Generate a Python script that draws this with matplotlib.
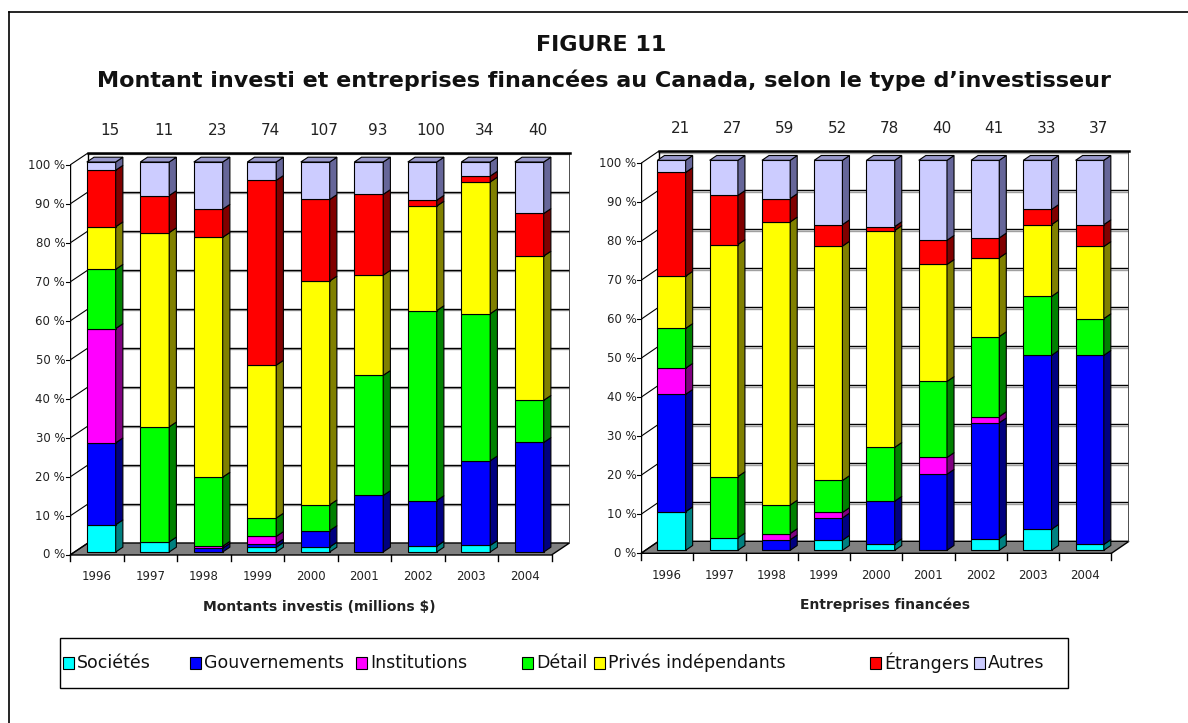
import numpy as np
import matplotlib
matplotlib.use("Agg")
import matplotlib.pyplot as plt
from matplotlib.patches import Polygon, Rectangle
from matplotlib.lines import Line2D
from matplotlib import font_manager

# données
annees = ['1996', '1997', '1998', '1999', '2000', '2001', '2002', '2003', '2004']
types = ['Sociétés', 'Gouvernements', 'Institutions', 'Détail',
         'Privés indépendants', 'Étrangers', 'Autres']
couleurs = ['#00FFFF', '#0000FF', '#FF00FF', '#00FF00', '#FFFF00', '#FF0000', '#CCCCFF']
ombres = ['#008080', '#000080', '#800080', '#008000', '#808000', '#800000', '#666699']
dessus_autres = '#9999CC'

# montants investis (% par année)
mi_societes = [7.0, 2.6, 0.0, 1.2, 1.3, 0.0, 1.5, 1.7, 0.0]
mi_gouv = [21.0, 0.0, 1.0, 0.9, 4.2, 14.5, 11.7, 21.7, 28.1]
mi_instit = [29.3, 0.0, 0.5, 1.9, 0.0, 0.0, 0.0, 0.0, 0.0]
mi_detail = [15.2, 29.5, 17.7, 4.7, 6.6, 30.8, 48.7, 37.7, 10.8]
mi_prives = [10.9, 49.8, 61.5, 39.2, 57.4, 25.7, 26.8, 33.8, 37.0]
mi_etrangers = [14.5, 9.5, 7.2, 47.4, 20.9, 20.7, 1.5, 1.5, 10.9]
mi_autres = [2.1, 8.6, 12.1, 4.7, 9.6, 8.3, 9.8, 3.6, 13.2]
mi_totaux = [15, 11, 23, 74, 107, 93, 100, 34, 40]  # millions $

# entreprises financées (% par année)
ef_societes = [9.9, 3.2, 0.0, 2.6, 1.7, 0.0, 3.0, 5.4, 1.5]
ef_gouv = [30.1, 0.0, 2.7, 5.7, 10.9, 19.5, 29.7, 44.6, 48.5]
ef_instit = [6.7, 0.0, 1.6, 1.4, 0.0, 4.3, 1.6, 0.0, 0.0]
ef_detail = [10.2, 15.7, 7.3, 8.2, 13.8, 19.5, 20.5, 15.1, 9.4]
ef_prives = [13.4, 59.5, 72.6, 60.1, 55.6, 30.0, 20.2, 18.4, 18.5]
ef_etrangers = [26.6, 12.6, 6.0, 5.5, 1.0, 6.2, 5.1, 3.9, 5.6]
ef_autres = [3.1, 9.0, 9.8, 16.5, 17.0, 20.5, 19.9, 12.6, 16.5]
ef_totaux = [21, 27, 59, 52, 78, 40, 41, 33, 37]

noms = {f.name for f in font_manager.fontManager.ttflist}
etroit = 'Liberation Sans Narrow' if 'Liberation Sans Narrow' in noms else 'DejaVu Sans'

W, H = 1188, 723
fig = plt.figure(figsize=(W / 100, H / 100), dpi=100)


def boite(x0, y0, x1, y1):
    # rectangle en pixels (origine en haut à gauche) -> coordonnées figure
    return [x0 / W, 1 - y1 / H, (x1 - x0) / W, (y1 - y0) / H]


DX, DY = 0.336, 3.08     # profondeur des murs
F = 0.25                 # position des barres dans la profondeur
BX, BY = 0.4 * DX, 0.4 * DY
LB = 0.54                # largeur des barres


def panneau(ax, series, totaux, titre):
    n = len(annees)
    ax.set_xlim(0, n + DX)
    ax.set_ylim(0, 100 + DY)
    ax.axis('off')
    # mur du fond
    for v in range(10, 101, 10):
        ax.plot([DX, n + DX], [v + DY - 0.35] * 2, color='#a0a0a0', lw=1)
        ax.plot([DX, n + DX], [v + DY, v + DY], color='black', lw=1)
    ax.plot([DX, DX], [DY, 100 + DY], color='black', lw=1)
    ax.plot([n + DX, n + DX], [DY, 100 + DY], color='#404040', lw=1.3)
    ax.plot([DX, n + DX], [100 + DY] * 2, color='black', lw=1.8, clip_on=False)
    # mur de gauche + axe
    for v in range(0, 101, 10):
        ax.plot([0, DX], [v, v + DY], color='black', lw=0.8)
        ax.plot([-0.07, 0], [v, v], color='black', lw=0.8, clip_on=False)
        ax.text(-0.09, v, f'{v} %', ha='right', va='center', fontsize=8.5,
                family=etroit, color='#222222')
    ax.plot([0, 0], [0, 100], color='black', lw=1)
    # plancher
    ax.add_patch(Polygon([(0, 0), (n, 0), (n + DX, DY), (DX, DY)], closed=True,
                         fc='#808080', ec='black', lw=1, clip_on=False))
    for i in range(n + 1):
        ax.plot([i, i], [0, -1.6], color='black', lw=1, clip_on=False)
    # barres empilées
    x = np.arange(n) + 0.5 + F * DX
    bas = np.full(n, F * DY)
    for vals, c, s in zip(series, couleurs, ombres):
        vals = np.array(vals)
        m = vals > 0
        ax.bar(x[m], vals[m], LB, bottom=bas[m], color=c, edgecolor='black',
               lw=0.8, zorder=3)
        for xi, b, h in zip(x[m], bas[m], vals[m]):
            xr = xi + LB / 2
            ax.add_patch(Polygon([(xr, b), (xr + BX, b + BY), (xr + BX, b + h + BY), (xr, b + h)],
                                 closed=True, fc=s, ec='black', lw=0.8, zorder=3))
        bas = bas + vals
    for xi, b in zip(x, bas):
        xl = xi - LB / 2
        ax.add_patch(Polygon([(xl, b), (xl + LB, b), (xl + LB + BX, b + BY), (xl + BX, b + BY)],
                             closed=True, fc=dessus_autres, ec='black', lw=0.8, zorder=3,
                             clip_on=False))
    # étiquettes
    for i, (a, t) in enumerate(zip(annees, totaux)):
        ax.text(i + 0.5, -5.6, a, ha='center', va='center', fontsize=8.5, color='#222222')
        ax.text(i + 0.75, 108.8, str(t), ha='center', va='center', fontsize=11,
                family=etroit, color='#222222')
    ax.text(n / 2 + DX / 2, -13.3, titre, ha='center', va='center', fontsize=10,
            fontweight='bold', color='#222222')


ax1 = fig.add_axes(boite(70, 153, 569.5, 555))
panneau(ax1, [mi_societes, mi_gouv, mi_instit, mi_detail, mi_prives, mi_etrangers, mi_autres],
        mi_totaux, 'Montants investis (millions $)')
ax2 = fig.add_axes(boite(641, 151.3, 1129, 553.3))
panneau(ax2, [ef_societes, ef_gouv, ef_instit, ef_detail, ef_prives, ef_etrangers, ef_autres],
        ef_totaux, 'Entreprises financées')

# titres
fig.text(601 / W, 1 - 45 / H, 'FIGURE 11', ha='center', va='center', fontsize=16,
         fontweight='bold', color='#111111')
fig.text(604 / W, 1 - 80 / H,
         'Montant investi et entreprises financées au Canada, selon le type d\u2019investisseur',
         ha='center', va='center', fontsize=16, fontweight='bold', color='#111111')

# cadre extérieur
fig.add_artist(Line2D([9 / W, 1], [1 - 12 / H] * 2, transform=fig.transFigure, color='black', lw=1.2))
fig.add_artist(Line2D([9 / W, 9 / W], [0, 1 - 12 / H], transform=fig.transFigure, color='black', lw=1.2))

# légende
fig.add_artist(Rectangle((60 / W, 1 - 688 / H), (1068 - 60) / W, 50 / H, transform=fig.transFigure,
                         fc='white', ec='black', lw=1))
pos_leg = [63, 190, 356, 522, 594, 870, 974]
for xp, nom, c in zip(pos_leg, types, couleurs):
    fig.add_artist(Rectangle((xp / W, 1 - 669 / H), 11 / W, 12 / H, transform=fig.transFigure,
                             fc=c, ec='black', lw=0.8))
    fig.text((xp + 14) / W, 1 - 663 / H, nom, ha='left', va='center', fontsize=12.5, color='#111111')

fig.savefig('out.png', dpi=100)
